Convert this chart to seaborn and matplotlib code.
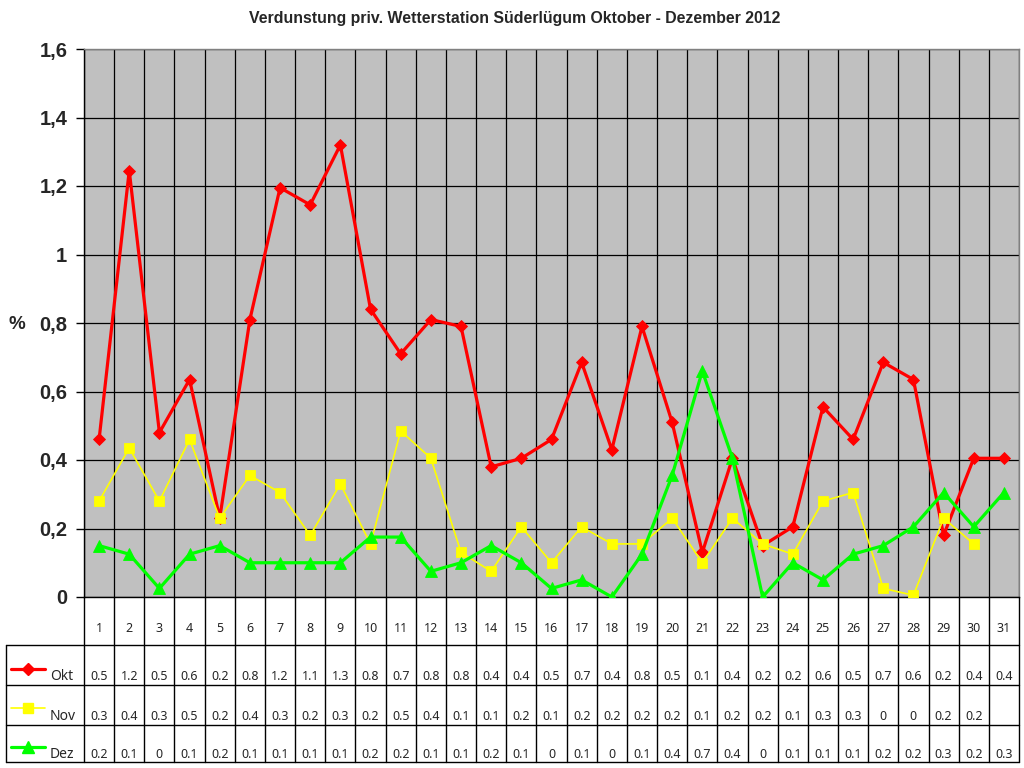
import math
import numpy as np
import pandas as pd
import matplotlib
matplotlib.use("Agg")
import matplotlib.pyplot as plt
import matplotlib.transforms as mtransforms
from matplotlib.lines import Line2D
import seaborn as sns

# ---------------- data ----------------
days = list(range(1, 32))
okt = [0.46, 1.245, 0.48, 0.635, 0.23, 0.81, 1.195, 1.145, 1.32, 0.84,
       0.71, 0.81, 0.79, 0.38, 0.405, 0.46, 0.685, 0.43, 0.79, 0.51,
       0.13, 0.405, 0.15, 0.205, 0.555, 0.46, 0.685, 0.635, 0.18, 0.405, 0.405]
nov = [0.28, 0.435, 0.28, 0.46, 0.23, 0.355, 0.305, 0.18, 0.33, 0.155,
       0.485, 0.405, 0.13, 0.075, 0.205, 0.10, 0.205, 0.155, 0.155, 0.23,
       0.10, 0.23, 0.155, 0.125, 0.28, 0.305, 0.025, 0.005, 0.23, 0.155, np.nan]
dez = [0.15, 0.125, 0.025, 0.125, 0.15, 0.10, 0.10, 0.10, 0.10, 0.175,
       0.175, 0.075, 0.10, 0.15, 0.10, 0.025, 0.05, 0.0, 0.125, 0.355,
       0.66, 0.405, 0.0, 0.10, 0.05, 0.125, 0.15, 0.205, 0.305, 0.205, 0.305]
series_names = ["Okt", "Nov", "Dez"]
series_values = [okt, nov, dez]
series_colors = ["#FF0000", "#FFFF00", "#00FF00"]
series_markers = ["D", "s", "^"]
series_ms = [6.0, 7.0, 8.5]
series_lw = [2.3, 1.2, 2.3]
y_ticks = [0, 0.2, 0.4, 0.6, 0.8, 1.0, 1.2, 1.4, 1.6]
title = "Verdunstung priv. Wetterstation Süderlügum Oktober - Dezember 2012"

W, H = 1024, 768
def fx(px):
    return px / W
def fy(py):
    return 1 - py / H

sns.set_theme(style="white")
plt.rcParams["font.family"] = ["Liberation Sans", "DejaVu Sans"]

fig = plt.figure(figsize=(W / 100, H / 100), dpi=100)
fig.patch.set_facecolor("white")
# plot area: x 84..1019, y 49..597 (pixels)
ax = fig.add_axes([fx(84), fy(597), (1019 - 84) / W, (597 - 49) / H])
ax.set_facecolor("#C0C0C0")

for name, vals, col, mk, ms, lw in zip(series_names, series_values, series_colors,
                                        series_markers, series_ms, series_lw):
    df = pd.DataFrame({"Tag": days, "Wert": vals}).dropna()
    sns.lineplot(data=df, x="Tag", y="Wert", ax=ax, color=col, linewidth=lw,
                 marker=mk, markersize=ms, markeredgewidth=0.6,
                 markeredgecolor=col, markerfacecolor=col, legend=False,
                 sort=False, zorder=3)

ax.set_xlim(0.5, 31.5)
ax.set_ylim(0, 1.6)
ax.set_xticks(np.arange(0.5, 32, 1))
ax.set_xticklabels([])
ax.tick_params(axis="x", length=0)
ax.set_yticks(y_ticks)
ax.set_yticklabels([f"{v:g}".replace(".", ",") for v in y_ticks],
                   fontsize=14.5, fontweight="bold")
ax.tick_params(axis="y", length=6, width=1, color="black", pad=6, left=True,
               direction="out")
ax.grid(True, color="black", linewidth=0.9)
ax.set_axisbelow(True)
ax.set_xlabel("")
ax.set_ylabel("")
for side in ["top", "right"]:
    ax.spines[side].set_color("#808080")
    ax.spines[side].set_linewidth(1)
for side in ["left", "bottom"]:
    ax.spines[side].set_color("black")
    ax.spines[side].set_linewidth(1)

# title and axis label
fig.text(fx(515), fy(18), title, ha="center", va="center", fontsize=11.4,
         fontweight="bold")
fig.text(fx(17), fy(325), "%", ha="center", va="center", fontsize=13.5,
         fontweight="bold")

# ---------------- data table ----------------
trans = mtransforms.blended_transform_factory(ax.transData, fig.transFigure)
tcol = "black"
# vertical lines through table
for xb in np.arange(0.5, 32, 1):
    fig.add_artist(Line2D([xb, xb], [fy(597), fy(762)], transform=trans,
                          color=tcol, linewidth=1))
# horizontal lines
for py in [645, 685, 725, 762]:
    fig.add_artist(Line2D([fx(6), fx(1019)], [fy(py), fy(py)],
                          transform=fig.transFigure, color=tcol, linewidth=1))
fig.add_artist(Line2D([fx(6), fx(6)], [fy(645), fy(762)],
                      transform=fig.transFigure, color=tcol, linewidth=1))

tfont = ["Noto Sans", "DejaVu Sans"]

def fmt(v):
    if v is None or (isinstance(v, float) and math.isnan(v)):
        return ""
    r = math.floor(v * 10 + 0.5 + 1e-9) / 10
    return "0" if r == 0 else f"{r:.1f}"

for d in days:
    fig.text(d, fy(628), str(d), transform=trans, ha="center", va="center",
             fontsize=9, family=tfont)

row_text_y = [677, 716, 755]
row_key_y = [669, 708, 747]
for name, vals, col, mk, ms, lw, ty, ky in zip(series_names, series_values,
                                               series_colors, series_markers,
                                               series_ms, series_lw,
                                               row_text_y, row_key_y):
    for d, v in zip(days, vals):
        fig.text(d, fy(ty), fmt(v), transform=trans, ha="center", va="center",
                 fontsize=9, family=tfont)
    fig.add_artist(Line2D([fx(11), fx(45)], [fy(ky), fy(ky)],
                          transform=fig.transFigure, color=col, linewidth=lw))
    fig.add_artist(Line2D([fx(28)], [fy(ky)], transform=fig.transFigure,
                          marker=mk, markersize=ms, color=col,
                          markeredgecolor=col, linestyle="none"))
    fig.text(fx(50), fy(ty), name, ha="left", va="center", fontsize=10,
             family=tfont)

fig.savefig("out.png", dpi=100)
